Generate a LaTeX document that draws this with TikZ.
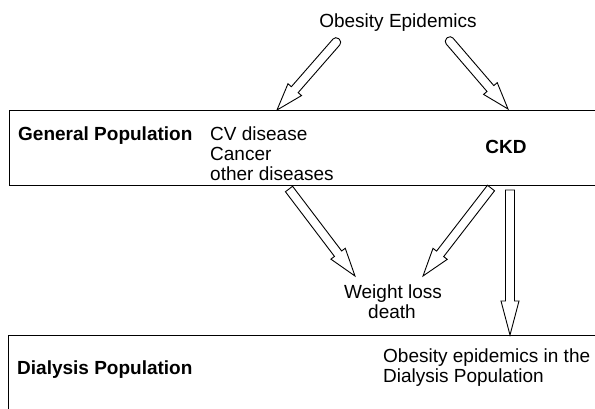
\documentclass[tikz,border=0pt]{standalone}
\usepackage{fontspec}
\setmainfont{Liberation Sans}
\usetikzlibrary{calc, positioning}

% hollow block arrow: [head length]{tail}{tip}{tail corners}
\newcommand{\fatarrow}[4][27pt]{%
  \coordinate (hb) at ($(#3)!#1!(#2)$);
  \coordinate (hm) at ($(#2)!0.5!(hb)$);
  \draw[hollow] ($(hm)!4.5pt!-90:(#3)$) -- ($(hb)!4.5pt!-90:(#3)$) -- ($(hb)!9pt!-90:(#3)$) -- (#3)
    -- ($(hb)!9pt!90:(#3)$) -- ($(hb)!4.5pt!90:(#3)$) -- ($(hm)!4.5pt!90:(#3)$)
    [#4] -- ($(#2)!4.5pt!90:(#3)$) -- ($(#2)!4.5pt!-90:(#3)$) -- cycle;
}

\begin{document}
\begin{tikzpicture}[x=1pt, y=-1pt]
    % Styles
    \tikzstyle{txt} = [inner sep=0pt, font=\fontsize{19}{20}\selectfont]
    \tikzstyle{boldtxt} = [inner sep=0pt, font=\fontsize{19}{20}\selectfont\bfseries]
    \tikzstyle{popbox} = [rectangle, draw, line width=1.2pt, inner sep=0pt, minimum width=640pt]
    \tikzstyle{hollow} = [draw, line width=0.9pt, fill=white, line join=miter]

    \path[use as bounding box] (0,0) rectangle (595,408);
    \clip (0,0) rectangle (595,408);

    % Populations
    \node [popbox, minimum height=75pt, anchor=north west] (gen) at (9,110) {};
    \node [popbox, minimum height=110pt, anchor=north west] (dial) at (8,335) {};

    % Texts
    \node [txt, anchor=base] (obes) at (398,27) {Obesity Epidemics};
    \node [boldtxt, anchor=base west] (genlbl) at (18,140) {General Population};
    \node [txt, anchor=base west] (cv) at (210,140) {CV disease};
    \node [txt, anchor=base west] (cancer) at (210,160) {Cancer};
    \node [txt, anchor=base west] (other) at (210,180) {other diseases};
    \node [boldtxt, anchor=base] (ckd) at (506,153) {CKD};
    \node [txt, anchor=base] (wloss) at (393,298) {Weight loss};
    \node [txt, anchor=base] (death) at (392,318) {death};
    \node [boldtxt, anchor=base west] (diallbl) at (17,374) {Dialysis Population};
    \node [txt, anchor=base west] (obdial) at (383,362) {Obesity epidemics in the};
    \node [txt, anchor=base west] (obdial2) at (383,382) {Dialysis Population};

    % Arrow ends
    \coordinate (tailA) at (339,39);
    \coordinate (tipA) at (277,110);
    \coordinate (tailB) at (447,38);
    \coordinate (tipB) at (508,109);
    \coordinate (tailC) at (289,189);
    \coordinate (tipC) at (355,276);
    \coordinate (tailD) at (491,188);
    \coordinate (tipD) at (423,276);
    \coordinate (tailE) at (510,190);
    \coordinate (tipE) at (510,335);

    % Arrows
    \fatarrow{tailA}{tipA}{rounded corners=4pt}
    \fatarrow{tailB}{tipB}{rounded corners=4pt}
    \fatarrow[28pt]{tailC}{tipC}{sharp corners}
    \fatarrow[28pt]{tailD}{tipD}{sharp corners}
    \fatarrow[34pt]{tailE}{tipE}{sharp corners}
\end{tikzpicture}
\end{document}
